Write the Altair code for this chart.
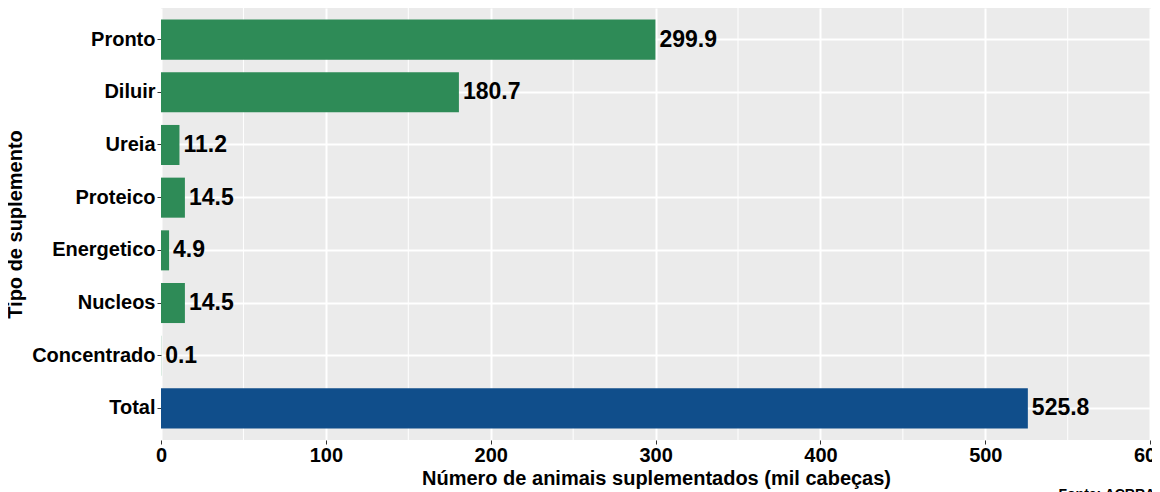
import altair as alt
import pandas as pd

categories = ["Pronto", "Diluir", "Ureia", "Proteico", "Energetico", "Nucleos", "Concentrado", "Total"]
values = [299.9, 180.7, 11.2, 14.5, 4.9, 14.5, 0.1, 525.8]
groups = ["Tipo", "Tipo", "Tipo", "Tipo", "Tipo", "Tipo", "Tipo", "Total"]
x_ticks = [0, 100, 200, 300, 400, 500, 600]
minor_ticks = [50, 150, 250, 350, 450, 550]

FONT = "Liberation Sans"

df = pd.DataFrame({"tipo": categories, "valor": values, "grupo": groups})
df["rotulo"] = [f"{v:.1f}" for v in values]
minor_df = pd.DataFrame({"valor": minor_ticks})

xscale = alt.Scale(domain=[0, 600.5], nice=False, zero=True)
yscale = alt.Scale(domain=categories, paddingInner=0.24, paddingOuter=0.22)

xaxis = alt.Axis(
    values=x_ticks, format="d",
    title="Número de animais suplementados (mil cabeças)",
    grid=True, gridColor="white", gridWidth=2,
    domain=False, tickColor="#333333", tickSize=4, tickWidth=1,
    labelFont=FONT, labelFontSize=20, labelFontWeight="bold", labelColor="black",
    labelPadding=1, labelFlush=False,
    titleFont=FONT, titleFontSize=20, titleFontWeight="bold", titleColor="black",
    titlePadding=3,
)
yaxis = alt.Axis(
    title="Tipo de suplemento", bandPosition=0.5,
    grid=True, gridColor="white", gridWidth=2,
    domain=False, tickColor="#333333", tickSize=4, tickWidth=1,
    labelFont=FONT, labelFontSize=20, labelFontWeight="bold", labelColor="black",
    labelPadding=2,
    titleFont=FONT, titleFontSize=20, titleFontWeight="bold", titleColor="black",
    titlePadding=6,
)

xenc = alt.X("valor:Q", scale=xscale, axis=xaxis)

minor = alt.Chart(minor_df).mark_rule(color="white", strokeWidth=1).encode(x=xenc)

bars = alt.Chart(df).mark_bar().encode(
    x=xenc,
    y=alt.Y("tipo:N", scale=yscale, axis=yaxis, sort=categories),
    color=alt.Color("grupo:N", scale=alt.Scale(domain=["Tipo", "Total"], range=["#2E8B57", "#104E8B"]), legend=None),
)

labels = alt.Chart(df).mark_text(
    align="left", baseline="middle", dx=4, font=FONT, fontSize=23, fontWeight="bold", color="black"
).encode(
    x=xenc,
    y=alt.Y("tipo:N", scale=yscale, axis=yaxis, sort=categories),
    text="rotulo:N",
)

chart = alt.layer(minor, bars, labels).properties(
    width=990, height=432,
    background="white",
    autosize=alt.AutoSizeParams(type="none"),
    padding={"left": 153, "top": 0, "right": 1, "bottom": 52},
    title=alt.TitleParams("Fonte: ACRRAM", orient="bottom", anchor="end", font=FONT,
                          fontSize=14, fontWeight="bold", color="black", offset=0),
).configure_view(fill="#EBEBEB", stroke=None)

chart.save("out.html", embed_options={"renderer": "svg", "actions": False})
